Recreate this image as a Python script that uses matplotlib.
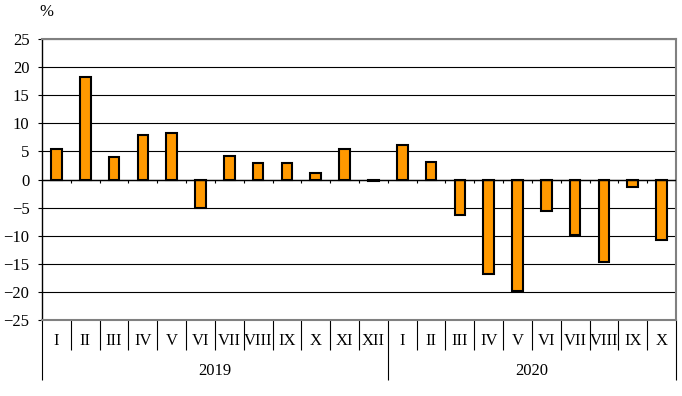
import matplotlib.pyplot as plt
import numpy as np

plt.rcParams['font.family'] = ['Liberation Serif', 'DejaVu Serif']

# данные: изменение, %
months_2019 = ['I', 'II', 'III', 'IV', 'V', 'VI', 'VII', 'VIII', 'IX', 'X', 'XI', 'XII']
months_2020 = ['I', 'II', 'III', 'IV', 'V', 'VI', 'VII', 'VIII', 'IX', 'X']
values_2019 = [5.5, 18.3, 4.0, 7.9, 8.2, -5.0, 4.2, 2.9, 2.9, 1.1, 5.5, -0.3]
values_2020 = [6.2, 3.2, -6.4, -16.9, -19.9, -5.6, -9.8, -14.6, -1.3, -10.8]
years = ['2019', '2020']

labels = months_2019 + months_2020
values = values_2019 + values_2020
x = np.arange(len(labels))

W, H = 682, 396
fig = plt.figure(figsize=(W / 100, H / 100), dpi=100)
ax = fig.add_axes([42 / W, (H - 320) / H, (676 - 42) / W, 281 / H])

ax.bar(x, values, width=0.37, color='#FF9900', edgecolor='black', linewidth=1.5, zorder=3)

ax.set_xlim(-0.5, len(labels) - 0.5)
ax.set_ylim(-25, 25)
ax.set_yticks(np.arange(-25, 26, 5))
ax.tick_params(axis='y', length=3, width=0.8, pad=6, labelsize=12, direction='out')
ax.set_xticks([])
ax.grid(True, axis='y', color='black', linewidth=0.8, zorder=1)

for s in ['top', 'right', 'bottom']:
    ax.spines[s].set_color('#808080')
    ax.spines[s].set_linewidth(1.5)
ax.spines['left'].set_color('black')
ax.spines['left'].set_linewidth(1)

# нулевая линия с засечками
ax.axhline(0, color='black', linewidth=1, zorder=4)
bounds = np.arange(len(labels) + 1) - 0.5
ax.vlines(bounds[1:-1], -0.6, 0, color='black', linewidth=0.8, zorder=4)

# подписи месяцев и разделители
trans = ax.get_xaxis_transform()
for i, lab in enumerate(labels):
    ax.text(i, -0.073, lab, transform=trans, ha='center', va='center', fontsize=12)
n19 = len(months_2019)
long_b = [bounds[0], bounds[n19], bounds[-1]]
short_b = [b for b in bounds if b not in long_b]
ax.vlines(short_b, -0.107, 0, transform=trans, color='black', linewidth=0.8, clip_on=False)
ax.vlines(long_b, -0.214, 0, transform=trans, color='black', linewidth=0.8, clip_on=False)
ax.text((n19 - 1) / 2, -0.18, years[0], transform=trans, ha='center', va='center', fontsize=12)
ax.text(n19 + (len(months_2020) - 1) / 2, -0.18, years[1], transform=trans, ha='center', va='center', fontsize=12)

fig.text(46 / W, 1 - 12 / H, '%', ha='center', va='center', fontsize=12)

plt.savefig('out.png', dpi=100)
